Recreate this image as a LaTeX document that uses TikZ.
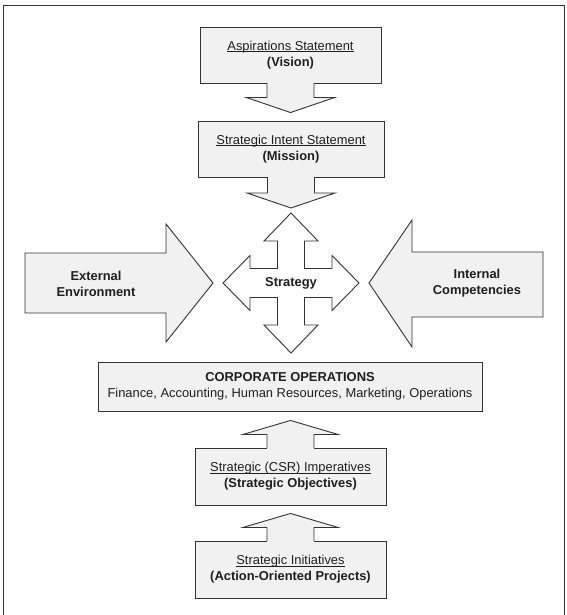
\documentclass[tikz,border=0pt]{standalone}
\usepackage{fontspec}
\setmainfont{Liberation Sans}
\usetikzlibrary{calc}
\definecolor{linec}{gray}{0.2}
\definecolor{fillc}{gray}{0.945}
\definecolor{textc}{gray}{0.12}
\newcommand\dgtxt{\fontsize{12.9}{16}\selectfont}
\newcommand\dgul[1]{\setbox0\hbox{#1}\rlap{\rule[-1.7pt]{\wd0}{0.65pt}}\box0}
% down block arrow: #1 base anchor, #2 tip coordinate, #3 shaft half, #4 head half
\newcommand\downblk[4]{%
  \fill[fillc] let \p1=(#1),\p2=(#2) in (\x1-#3pt,\y1+1.2pt) -- (\x1-#3pt,\y2+15pt) -- (\x1-#4pt,\y2+15pt) -- (\x1,\y2) -- (\x1+#4pt,\y2+15pt) -- (\x1+#3pt,\y2+15pt) -- (\x1+#3pt,\y1+1.2pt) -- cycle;
  \draw[edge] let \p1=(#1),\p2=(#2) in (\x1-#3pt,\y1+0.45pt) -- (\x1-#3pt,\y2+15pt) -- (\x1-#4pt,\y2+15pt) -- (\x1,\y2) -- (\x1+#4pt,\y2+15pt) -- (\x1+#3pt,\y2+15pt) -- (\x1+#3pt,\y1+0.45pt);
}
\newcommand\upblk[4]{%
  \fill[fillc] let \p1=(#1),\p2=(#2) in (\x1-#3pt,\y1-1.2pt) -- (\x1-#3pt,\y2-14pt) -- (\x1-#4pt,\y2-14pt) -- (\x1,\y2) -- (\x1+#4pt,\y2-14pt) -- (\x1+#3pt,\y2-14pt) -- (\x1+#3pt,\y1-1.2pt) -- cycle;
  \draw[edge] let \p1=(#1),\p2=(#2) in (\x1-#3pt,\y1-0.45pt) -- (\x1-#3pt,\y2-14pt) -- (\x1-#4pt,\y2-14pt) -- (\x1,\y2) -- (\x1+#4pt,\y2-14pt) -- (\x1+#3pt,\y2-14pt) -- (\x1+#3pt,\y1-0.45pt);
}
\begin{document}
\begin{tikzpicture}[x=1pt,y=-1pt,line join=miter,
  box/.style={draw=linec, fill=fillc, line width=0.9pt, inner sep=0pt, align=center, font=\dgtxt, text=textc},
  edge/.style={draw=linec, line width=0.9pt},
  bigarrow/.style={draw=linec, fill=fillc, line width=0.9pt},
  crossarrow/.style={draw=linec, fill=white, line width=0.9pt},
  lbl/.style={align=center, font=\dgtxt\bfseries, text=textc, inner sep=0pt}]
\useasboundingbox (0,0) rectangle (566,615);
\fill[white] (0,0) rectangle (566,615);
% frame
\draw[linec, line width=1.8pt] (3.5,620) -- (3.5,5.5);
\draw[linec, line width=1.2pt] (2.6,5.5) -- (564.5,5.5);
\draw[linec, line width=1pt] (564,5) -- (564,620);

% boxes
\node[box, minimum width=181pt, minimum height=56pt] (asp) at (290.5,55)
  {\dgul{Aspirations Statement}\\\textbf{(Vision)}};
\node[box, minimum width=186pt, minimum height=56pt] (mis) at (291,149)
  {\dgul{Strategic Intent Statement}\\\textbf{(Mission)}};
\node[box, minimum width=384pt, minimum height=49pt] (corp) at (290,386.5)
  {\textbf{CORPORATE OPERATIONS}\\Finance, Accounting, Human Resources, Marketing, Operations};
\node[box, minimum width=191pt, minimum height=57pt] (csr) at (290.5,476.5)
  {\dgul{Strategic (CSR) Imperatives}\\\textbf{(Strategic Objectives)}};
\node[box, minimum width=191pt, minimum height=57pt] (ini) at (290.5,569.5)
  {\dgul{Strategic Initiatives}\\\textbf{(Action-Oriented Projects)}};

% strategy cross
\coordinate (sc) at (291,283);
\draw[crossarrow, shift={(sc)}] (0,-70) -- (27,-42) -- (13.5,-42) -- (13.5,-14.5) -- (41,-14.5) -- (41,-27.5)
  -- (68,0) -- (41,27.5) -- (41,14.5) -- (13.5,14.5) -- (13.5,42) -- (27,42) -- (0,70)
  -- (-27,42) -- (-13.5,42) -- (-13.5,14.5) -- (-41,14.5) -- (-41,27.5) -- (-68,0)
  -- (-41,-27.5) -- (-41,-14.5) -- (-13.5,-14.5) -- (-13.5,-42) -- (-27,-42) -- cycle;
\node[lbl] (strat) at (sc) {Strategy};

% connectors between boxes
\coordinate (t1) at ($(mis.north)+(0,-8)$);
\downblk{asp.south}{t1}{23.5}{44}
\coordinate (t2) at ($(sc)+(0,-75)$);
\downblk{mis.south}{t2}{23.5}{44}
\coordinate (t3) at ($(corp.south)+(0,9)$);
\upblk{csr.north}{t3}{23.5}{47.5}
\coordinate (t4) at ($(csr.south)+(0,8)$);
\upblk{ini.north}{t4}{23.5}{47.5}

% external / internal arrows
\draw[bigarrow] (25,253) -- (166,253) -- (166,224) -- (213,283) -- (166,342) -- (166,313) -- (25,313) -- cycle;
\node[lbl] (ext) at (96,283.5) {External\\Environment};
\draw[bigarrow] (369,283) -- (412,220) -- (412,252) -- (543,252) -- (543,317) -- (412,317) -- (412,347) -- cycle;
\node[lbl] (int) at (477,283.5) {Internal\\Competencies};
\end{tikzpicture}
\end{document}
